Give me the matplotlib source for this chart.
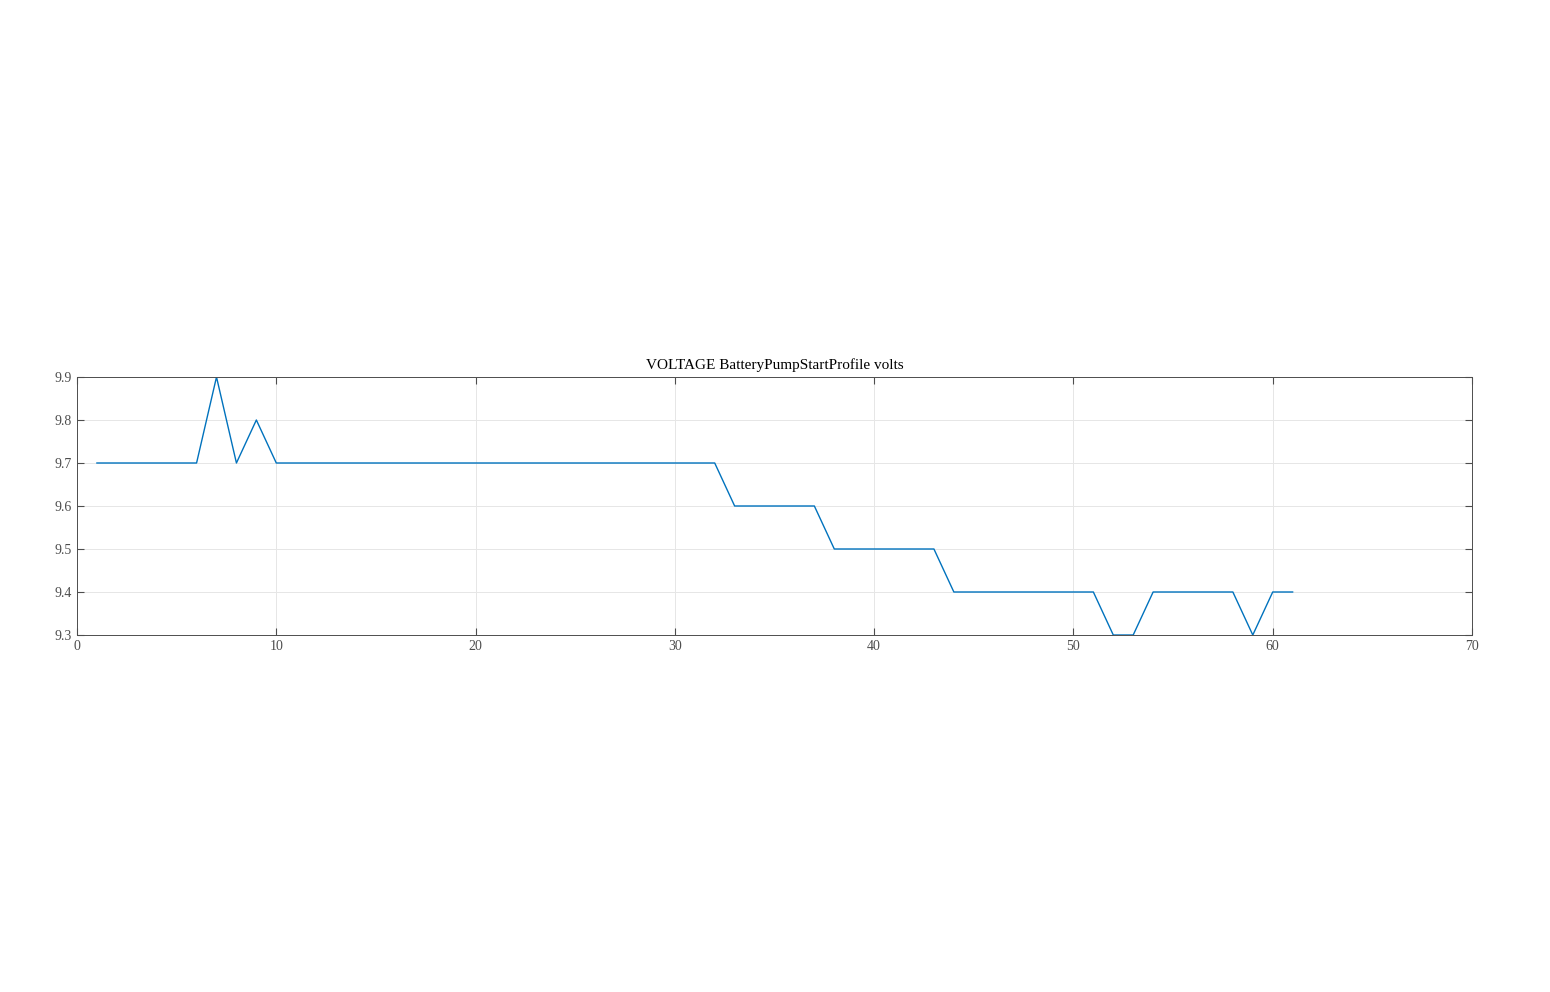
import matplotlib
matplotlib.use('Agg')
import matplotlib.pyplot as plt

# sample index and voltage readings
samples = list(range(1, 62))
volts = ([9.7] * 6 + [9.9, 9.7, 9.8] + [9.7] * 23 + [9.6] * 5 + [9.5] * 6
         + [9.4] * 8 + [9.3] * 2 + [9.4] * 5 + [9.3] + [9.4] * 2)

plt.rcParams['font.family'] = ['Liberation Serif', 'DejaVu Serif']

fig = plt.figure(figsize=(15.5, 9.92), dpi=100)
ax = fig.add_axes([77 / 1550, 1 - 635 / 992, (1472 - 77) / 1550, (635 - 377) / 992])
ax.plot(samples, volts, color='#0072BD', lw=1)
ax.set_xlim(0, 70)
ax.set_ylim(9.3, 9.9)
ax.set_xticks(range(0, 71, 10))
ax.set_yticks([9.3, 9.4, 9.5, 9.6, 9.7, 9.8, 9.9])
ax.grid(color='#e6e6e6', lw=0.7)
ax.set_axisbelow(True)
ax.tick_params(direction='in', top=True, right=True, labelsize=10,
               colors='#4d4d4d', length=5)
for s in ax.spines.values():
    s.set_color('#4d4d4d')
    s.set_linewidth(0.7)
ax.set_title("VOLTAGE BatteryPumpStartProfile volts", fontsize=11, pad=6)

fig.savefig('out.png', dpi=100)
